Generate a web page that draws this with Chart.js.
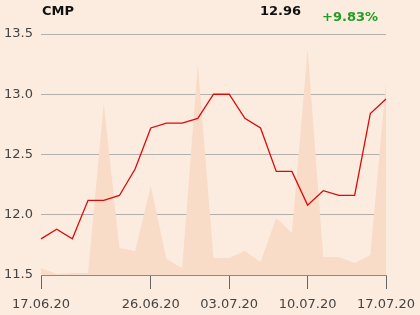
<!DOCTYPE html>
<html>
<head>
<meta charset="utf-8">
<script src="https://cdn.jsdelivr.net/npm/chart.js@4"></script>
<style>
  html, body { margin: 0; padding: 0; background: #fcecdf; }
  #wrap { position: relative; width: 420px; height: 315px; }
  .hdr { position: absolute; font-family: 'DejaVu Sans'; font-weight: bold; font-size: 13px; line-height: 15px; color: #111; }
</style>
</head>
<body>
<div id="wrap">
  <canvas id="chartCmp" width="420" height="315"></canvas>
  <div class="hdr" style="left:42px; top:3px;">CMP</div>
  <div class="hdr" style="left:260px; top:3px;">12.96</div>
  <div class="hdr" style="left:322px; top:9px; color:#1f9e1f;">+9.83%</div>
</div>
<script>
//* DATOS
const fechas = ['17.06.20', '18.06.20', '19.06.20', '22.06.20', '23.06.20', '24.06.20', '25.06.20',
    '26.06.20', '29.06.20', '30.06.20', '01.07.20', '02.07.20', '03.07.20', '06.07.20', '07.07.20',
    '08.07.20', '09.07.20', '10.07.20', '13.07.20', '14.07.20', '15.07.20', '16.07.20', '17.07.20'];
const precios = [11.80, 11.88, 11.80, 12.12, 12.12, 12.16, 12.38, 12.72, 12.76, 12.76, 12.80, 13.00,
    13.00, 12.80, 12.72, 12.36, 12.36, 12.08, 12.20, 12.16, 12.16, 12.84, 12.96];
const volumen = [7, 1, 2, 2, 172, 27, 24, 89, 16, 7, 211, 17, 17, 24, 13, 57, 42, 226, 18, 18, 12, 20, 193];
const fechasMostradas = ['17.06.20', '26.06.20', '03.07.20', '10.07.20', '17.07.20'];

const ctxCmp = document.getElementById('chartCmp');
const esMostrada = (i) => fechasMostradas.includes(fechas[i]);
const colorMarca = (c) => esMostrada(c.index) ? '#666' : 'rgba(0,0,0,0)';

new Chart(ctxCmp, {
    data: {
        labels: fechas,
        datasets: [{
            type: 'line',
            label: 'CMP',
            data: precios,
            borderColor: '#dd0a0a',
            borderWidth: 1.3,
            pointRadius: 0,
            tension: 0,
            yAxisID: 'y',
            order: 0
        }, {
            type: 'line',
            label: 'Volumen',
            data: volumen,
            borderWidth: 0,
            backgroundColor: '#f8dcc7',
            fill: 'start',
            pointRadius: 0,
            tension: 0,
            yAxisID: 'y2',
            order: 1
        }]
    },
    options: {
        responsive: false,
        animation: false,
        layout: { padding: { top: 34, right: 34, left: 0, bottom: 0 } },
        plugins: { legend: { display: false }, tooltip: { enabled: false } },
        scales: {
            x: {
                offset: false,
                border: { display: true, color: '#8a8a8a' },
                grid: {
                    drawOnChartArea: false,
                    tickLength: 14,
                    lineWidth: 1,
                    color: colorMarca,
                    tickColor: colorMarca
                },
                ticks: {
                    autoSkip: false,
                    maxRotation: 0,
                    padding: 8,
                    color: '#444',
                    font: { family: 'DejaVu Sans', size: 13 },
                    callback: function (v, i) { return esMostrada(i) ? fechas[i] : ''; }
                },
                afterFit: (s) => { s.height = 40; s.paddingLeft = 0; s.paddingRight = 0; }
            },
            y: {
                min: 11.5,
                max: 13.5,
                border: { display: false },
                grid: { color: '#b3afab', drawTicks: false },
                ticks: {
                    stepSize: 0.5,
                    padding: 8,
                    color: '#444',
                    font: { family: 'DejaVu Sans', size: 13 },
                    callback: (v) => v.toFixed(1)
                },
                afterFit: (s) => { s.width = 41; }
            },
            y2: {
                display: false,
                min: 0,
                max: 241
            }
        }
    }
});
</script>
</body>
</html>
